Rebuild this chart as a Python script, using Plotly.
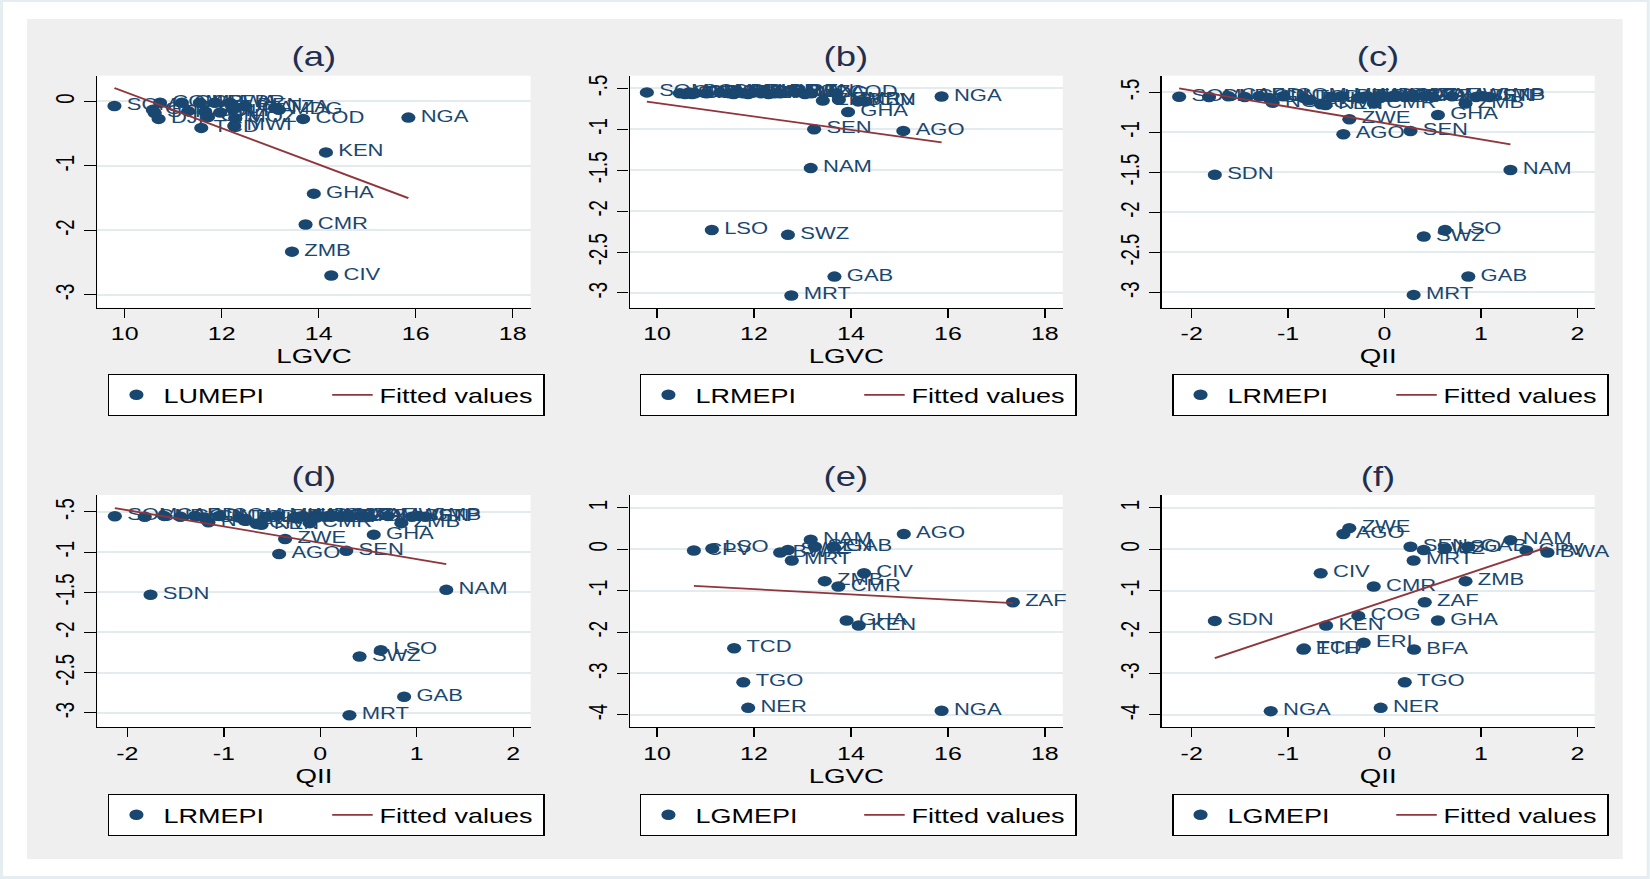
import plotly.graph_objects as go

# ---------------------------------------------------------------- data
# (a) LUMEPI vs LGVC
lab_a = ["SOM", "GNB", "STP", "COM", "DJI", "GMB", "CAF", "SLE", "TCD", "BDI", "GIN", "RWA", "MLI",
         "LBR", "UGA", "MOZ", "MWI", "BEN", "TZA", "MDG", "COD", "ZMB", "CMR", "GHA", "KEN", "CIV", "NGA"]
lgvc_a = [9.79, 10.58, 10.62, 10.73, 10.70, 11.18, 11.31, 11.55, 11.58, 11.66, 11.72, 11.86, 11.97,
          12.17, 12.24, 12.28, 12.26, 12.48, 13.10, 13.18, 13.68, 13.45, 13.73, 13.90, 14.15, 14.26, 15.85]
lumepi_a = [-0.07, -0.13, -0.18, -0.02, -0.27, -0.02, -0.15, -0.02, -0.41, -0.16, -0.24, -0.02, -0.17,
            -0.02, -0.12, -0.26, -0.38, -0.07, -0.10, -0.13, -0.27, -2.33, -1.91, -1.43, -0.79, -2.70, -0.25]
fit_a_x = [9.79, 15.85]
fit_a_y = [0.21, -1.50]

# (b) LRMEPI vs LGVC
lab_b = ["SOM", "GNB", "STP", "COM", "DJI", "CPV", "GMB", "CAF", "SLE", "TCD", "BDI", "TGO", "NER",
         "RWA", "MLI", "LBR", "MWI", "MOZ", "BWA", "BEN", "MDG", "TZA", "COD", "ZMB", "CMR", "KEN",
         "CIV", "GHA", "NGA", "SEN", "AGO", "NAM", "LSO", "SWZ", "GAB", "MRT"]
lgvc_b = [9.79, 10.47, 10.58, 10.66, 10.72, 10.78, 11.02, 11.30, 11.50, 11.58, 11.66, 11.78, 11.88,
          12.00, 12.15, 12.22, 12.30, 12.42, 12.54, 12.88, 13.05, 13.18, 13.70, 13.42, 13.75, 14.15,
          14.30, 13.94, 15.87, 13.24, 15.08, 13.17, 11.13, 12.70, 13.66, 12.77]
lrmepi_b = [-0.55, -0.56, -0.57, -0.55, -0.57, -0.56, -0.56, -0.55, -0.56, -0.57, -0.55, -0.56, -0.57,
            -0.55, -0.56, -0.55, -0.57, -0.56, -0.56, -0.55, -0.57, -0.56, -0.56, -0.65, -0.64, -0.66,
            -0.66, -0.79, -0.60, -1.00, -1.02, -1.475, -2.23, -2.29, -2.80, -3.03]
fit_b_x = [9.79, 15.87]
fit_b_y = [-0.664, -1.16]

# (c) and (d) LRMEPI vs QII
lab_c = ["SOM", "GNB", "SDN", "CAF", "COD", "BDI", "GIN", "NGA", "COM", "TCD", "ETH", "CIV", "KEN",
         "LBR", "MLI", "AGO", "ZWE", "COG", "ERI", "MDG", "CMR", "UGA", "NER", "RWA", "MOZ", "TGO",
         "SEN", "MRT", "BFA", "SWZ", "ZAF", "TZA", "GHA", "LSO", "MWI", "ZMB", "GAB", "BEN", "GMB",
         "STP", "NAM"]
qii_c = [-2.13, -1.82, -1.76, -1.62, -1.45, -1.30, -1.20, -1.16, -1.05, -0.84, -0.78, -0.66, -0.61,
         -0.55, -0.45, -0.427, -0.365, -0.27, -0.22, -0.18, -0.11, -0.05, -0.04, 0.05, 0.12, 0.21,
         0.269, 0.302, 0.31, 0.407, 0.42, 0.50, 0.554, 0.628, 0.70, 0.84, 0.869, 0.95, 1.02,
         1.09, 1.306]
lrmepi_c = [-0.555, -0.56, -1.53, -0.55, -0.56, -0.55, -0.57, -0.63, -0.55, -0.57, -0.60, -0.65, -0.66,
            -0.56, -0.55, -1.024, -0.837, -0.57, -0.56, -0.55, -0.64, -0.55, -0.57, -0.56, -0.55, -0.56,
            -0.983, -3.03, -0.56, -2.30, -0.55, -0.56, -0.783, -2.22, -0.55, -0.64, -2.80, -0.56, -0.55,
            -0.56, -1.47]
fit_c_x = [-2.13, 1.306]
fit_c_y = [-0.452, -1.151]

# (e) LGMEPI vs LGVC
lab_e = ["CPV", "LSO", "BWA", "SWZ", "MRT", "NAM", "SEN", "GAB", "AGO", "ZMB", "CMR", "CIV", "ZAF",
         "GHA", "KEN", "TCD", "TGO", "NER", "NGA"]
lgvc_e = [10.76, 11.14, 12.54, 12.70, 12.78, 13.17, 13.26, 13.64, 15.09, 13.46, 13.74, 14.27, 17.34,
          13.91, 14.16, 11.59, 11.78, 11.88, 15.87]
lgmepi_e = [-0.03, 0.02, -0.08, -0.02, -0.27, 0.23, 0.06, 0.06, 0.37, -0.77, -0.90, -0.58, -1.28,
            -1.72, -1.84, -2.39, -3.21, -3.83, -3.90]
fit_e_x = [10.76, 17.34]
fit_e_y = [-0.886, -1.30]

# (f) LGMEPI vs QII
lab_f = ["ZWE", "AGO", "SEN", "SWZ", "LSO", "GAB", "NAM", "CPV", "BWA", "MRT", "CIV", "CMR", "ZMB",
         "ZAF", "COG", "SDN", "GHA", "KEN", "ERI", "ETH", "TCD", "BFA", "TGO", "NER", "NGA"]
qii_f = [-0.365, -0.427, 0.269, 0.407, 0.628, 0.869, 1.306, 1.47, 1.69, 0.302, -0.662, -0.112, 0.84,
         0.417, -0.272, -1.76, 0.554, -0.606, -0.216, -0.842, -0.835, 0.306, 0.21, -0.04, -1.18]
lgmepi_f = [0.51, 0.37, 0.06, -0.02, 0.02, 0.06, 0.22, -0.03, -0.08, -0.27, -0.58, -0.90, -0.77,
            -1.28, -1.61, -1.73, -1.72, -1.84, -2.26, -2.42, -2.40, -2.42, -3.21, -3.83, -3.91]
fit_f_x = [-1.76, 1.69]
fit_f_y = [-2.63, 0.05]

panel_titles = ["(a)", "(b)", "(c)", "(d)", "(e)", "(f)"]
series_names = ["LUMEPI", "LRMEPI", "LRMEPI", "LRMEPI", "LGMEPI", "LGMEPI"]
x_titles = ["LGVC", "LGVC", "QII", "QII", "LGVC", "QII"]

lgvc_ticks = [10, 12, 14, 16, 18]
qii_ticks = [-2, -1, 0, 1, 2]
yt_a = [0, -1, -2, -3]
yt_a_text = ["0", "-1", "-2", "-3"]
yt_r = [-0.5, -1, -1.5, -2, -2.5, -3]
yt_r_text = ["-.5", "-1", "-1.5", "-2", "-2.5", "-3"]
yt_g = [1, 0, -1, -2, -3, -4]
yt_g_text = ["1", "0", "-1", "-2", "-3", "-4"]

# ---------------------------------------------------------------- style
S = 1.35                      # horizontal stretch of the reference image
W_OUT, H = 1650, 879
W = W_OUT / S
FONT = "Liberation Sans, Arial, Helvetica, sans-serif"
NAVY = "#1a476f"
MAROON = "#90353b"
TITLE_C = "#1f2f50"
GRID = "#e3ebee"

col_dom = [(97.5 / W_OUT, 530.7 / W_OUT), (630 / W_OUT, 1063 / W_OUT), (1162 / W_OUT, 1595 / W_OUT)]
row_dom = [(1 - 307.7 / H, 1 - 75.7 / H), (1 - 727.3 / H, 1 - 495 / H)]
title_y = [1 - 57 / H, 1 - 477 / H]
legend_y = [1 - 374 / H, 1 - 794 / H]
legend_x = [107.7 / W_OUT, 639.8 / W_OUT, 1172 / W_OUT]

panels = [
    (lab_a, lgvc_a, lumepi_a, fit_a_x, fit_a_y, [9.44, 18.37], [-3.2, 0.4], lgvc_ticks, yt_a, yt_a_text),
    (lab_b, lgvc_b, lrmepi_b, fit_b_x, fit_b_y, [9.44, 18.37], [-3.18, -0.346], lgvc_ticks, yt_r, yt_r_text),
    (lab_c, qii_c, lrmepi_c, fit_c_x, fit_c_y, [-2.31, 2.18], [-3.19, -0.293], qii_ticks, yt_r, yt_r_text),
    (lab_c, qii_c, lrmepi_c, fit_c_x, fit_c_y, [-2.31, 2.18], [-3.18, -0.29], qii_ticks, yt_r, yt_r_text),
    (lab_e, lgvc_e, lgmepi_e, fit_e_x, fit_e_y, [9.44, 18.37], [-4.30, 1.31], lgvc_ticks, yt_g, yt_g_text),
    (lab_f, qii_f, lgmepi_f, fit_f_x, fit_f_y, [-2.31, 2.18], [-4.30, 1.31], qii_ticks, yt_g, yt_g_text),
]

fig = go.Figure()
layout = dict(
    width=W, height=H, margin=dict(l=0, r=0, t=0, b=0),
    paper_bgcolor="#e6edf1", plot_bgcolor="white",
    font=dict(family=FONT, color="black"),
    showlegend=True,
)
shapes = [
    dict(type="rect", xref="paper", yref="paper", x0=3 / W_OUT, x1=1 - 3 / W_OUT, y0=3 / H, y1=1 - 2 / H,
         fillcolor="white", line=dict(width=0), layer="below"),
    dict(type="rect", xref="paper", yref="paper", x0=27 / W_OUT, x1=1623 / W_OUT, y0=1 - 859 / H, y1=1 - 19 / H,
         fillcolor="#efefef", line=dict(width=0), layer="below"),
]
annotations = []

for i, (lab, xs, ys, fx, fy, xr, yr, xt, yt, ytt) in enumerate(panels):
    k = "" if i == 0 else str(i + 1)
    r, c = divmod(i, 3)
    leg = "legend" if i == 0 else "legend" + str(i + 1)
    xa, ya = "x" + k, "y" + k

    # country labels (invisible marker keeps the label clear of the dot)
    fig.add_trace(go.Scatter(
        x=xs, y=ys, text=lab, mode="markers+text", textposition="middle right",
        marker=dict(size=13, opacity=0),
        textfont=dict(size=16.3, color=NAVY, family=FONT),
        xaxis=xa, yaxis=ya, showlegend=False, cliponaxis=False, hoverinfo="skip"))
    fig.add_trace(go.Scatter(
        x=xs, y=ys, mode="markers", name=series_names[i],
        marker=dict(size=10.5, color=NAVY, line=dict(width=0)),
        xaxis=xa, yaxis=ya, legend=leg, legendwidth=115, cliponaxis=False))
    fig.add_trace(go.Scatter(
        x=fx, y=fy, mode="lines", name="Fitted values",
        line=dict(color=MAROON, width=1.8),
        xaxis=xa, yaxis=ya, legend=leg, legendwidth=116))

    layout["xaxis" + k] = dict(
        domain=list(col_dom[c]), anchor=ya, range=xr, tickvals=xt, ticktext=[str(v) for v in xt],
        ticks="outside", ticklen=9, tickwidth=1.3, tickcolor="black",
        showline=True, linecolor="black", linewidth=1.3, showgrid=False, zeroline=False,
        tickfont=dict(size=18.5, color="black", family=FONT),
        title=dict(text=x_titles[i], font=dict(size=20.5, color="black", family=FONT), standoff=0),
    )
    layout["yaxis" + k] = dict(
        domain=list(row_dom[r]), anchor=xa, range=yr, tickvals=yt, ticktext=ytt, tickangle=-90,
        ticks="outside", ticklen=8.6, tickwidth=1.3, tickcolor="black",
        showline=True, linecolor="black", linewidth=1.3, showgrid=True, gridcolor=GRID, gridwidth=1.6,
        zeroline=False, tickfont=dict(size=18.5, color="black", family=FONT),
    )
    layout[leg] = dict(
        x=legend_x[c], y=legend_y[r], xanchor="left", yanchor="top", orientation="h",
        bgcolor="white", bordercolor="black", borderwidth=1.3, itemwidth=30,
        font=dict(size=20, color="black", family=FONT),
    )
    shapes.append(dict(type="rect", xref="paper", yref="paper",
                       x0=col_dom[c][0], x1=col_dom[c][1], y0=row_dom[r][0], y1=row_dom[r][1],
                       fillcolor="white", line=dict(width=0), layer="below"))
    annotations.append(dict(
        text=panel_titles[i], xref="paper", yref="paper",
        x=(col_dom[c][0] + col_dom[c][1]) / 2, y=title_y[r], xanchor="center", yanchor="middle",
        showarrow=False, font=dict(size=27, color=TITLE_C, family=FONT)))

layout["shapes"] = shapes
layout["annotations"] = annotations
fig.update_layout(**layout)

post = (
    "document.body.style.margin='0';"
    "document.body.style.overflow='hidden';"
    "var gd=document.getElementById('{plot_id}');"
    "gd.style.transformOrigin='0 0';"
    "gd.style.transform='scale(%s,1)';" % S
)
fig.write_html("out.html", post_script=post, config={"displayModeBar": False})
